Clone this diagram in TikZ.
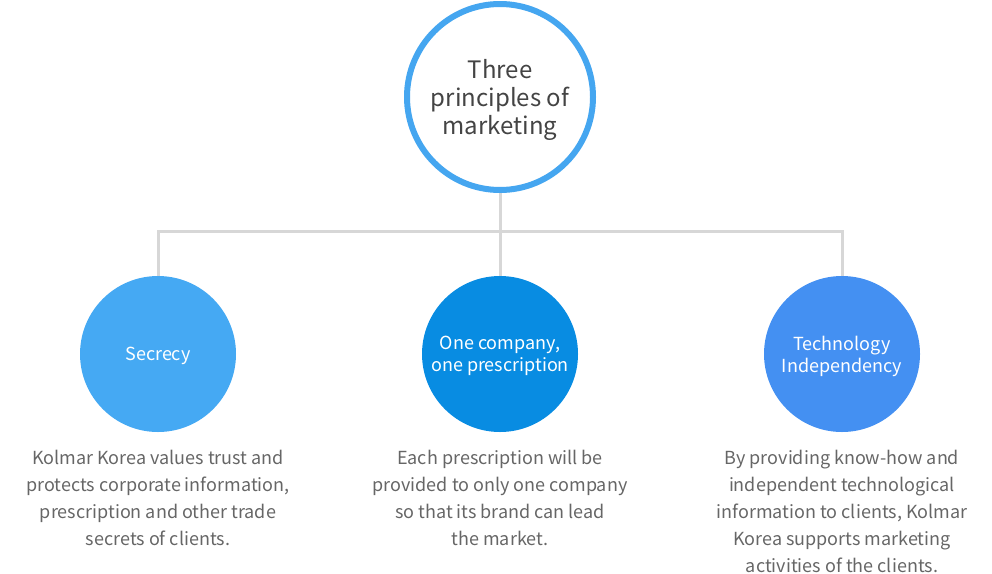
\documentclass[tikz,border=0pt]{standalone}
\usepackage{fontspec}
\setmainfont{Noto Sans CJK KR}
\usetikzlibrary{positioning}
\definecolor{ringblue}{HTML}{45A6F0}
\definecolor{secblue}{HTML}{45A9F3}
\definecolor{oneblue}{HTML}{088CE2}
\definecolor{techblue}{HTML}{4490F2}
\definecolor{linegray}{HTML}{D7D7D7}
\definecolor{titlegray}{HTML}{444444}
\definecolor{descgray}{HTML}{666666}

\begin{document}
\begin{tikzpicture}[x=1pt,y=-1pt,
          every node/.style={font=\fontsize{18}{22}\selectfont},
          root/.style={circle,draw=ringblue,line width=6pt,fill=white,minimum size=186pt,inner sep=0pt,align=center,text depth=-3pt,text=titlegray,font=\fontsize{24}{28}\selectfont},
          principle/.style={circle,minimum size=156pt,inner sep=0pt,align=center,text depth=0pt,text=white},
          desc/.style={anchor=north,inner sep=0pt,align=center,text=descgray,font=\fontsize{18}{27}\selectfont},
          link/.style={draw=linegray,line width=3pt},
        ]
        \useasboundingbox (0,0) rectangle (992,573);
        \node[root] (top) at (500,97) {Three\\principles of\\marketing};
        \node[principle,fill=secblue] (sec) at (158,354) {Secrecy};
        \node[principle,fill=oneblue] (one) at (500,354) {One company,\\one prescription};
        \node[principle,fill=techblue] (tech) at (842,354) {Technology\\Independency};
        \coordinate (bus) at (500,231);
        \draw[link] (top.south) -- (bus);
        \draw[link] (sec.north) |- (bus) -| (tech.north);
        \draw[link] (bus) -- (one.north);
        \node[desc] (secdesc) at (158,450) {Kolmar Korea values trust and\\protects corporate information,\\prescription and other trade\\secrets of clients.};
        \node[desc] (onedesc) at (500,450) {Each prescription will be\\provided to only one company\\so that its brand can lead\\the market.};
        \node[desc] (techdesc) at (842,450) {By providing know-how and\\independent technological\\information to clients, Kolmar\\Korea supports marketing\\activities of the clients.};
      \end{tikzpicture}
\end{document}
